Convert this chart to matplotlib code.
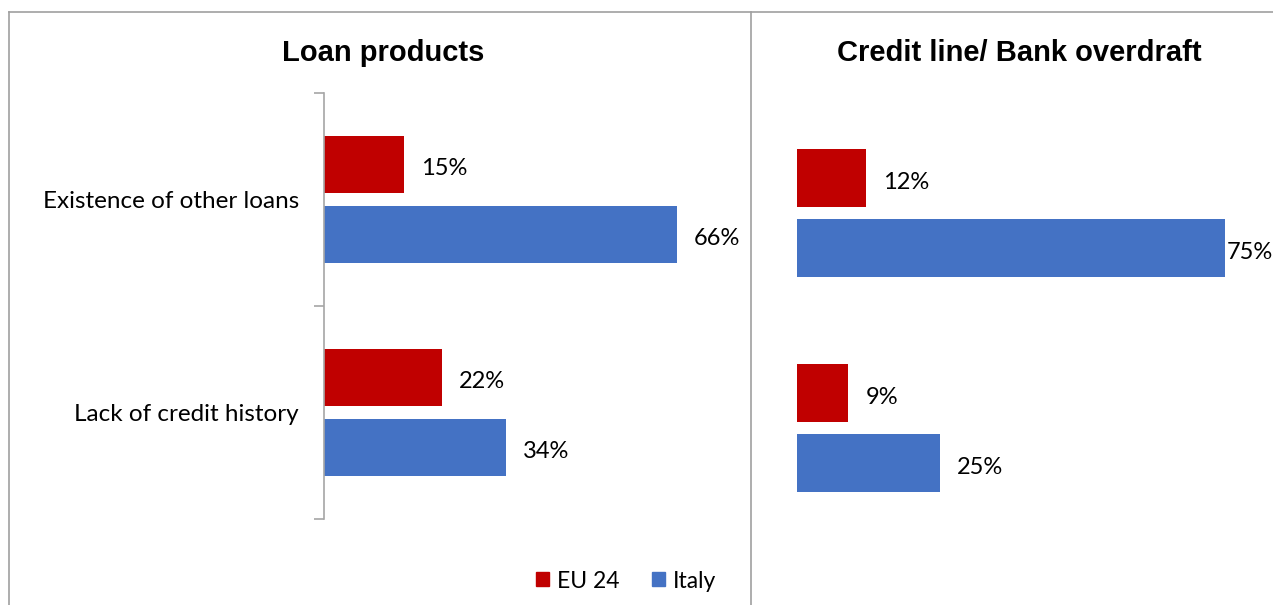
import matplotlib
matplotlib.use("Agg")
import matplotlib.pyplot as plt
from matplotlib.lines import Line2D
from matplotlib.patches import Rectangle

W, H = 1273, 605
DPI = 100

categories = ["Existence of other loans", "Lack of credit history"]
series_names = ["EU 24", "Italy"]
loan_eu = [15, 22]
loan_italy = [66, 34]
credit_eu = [12, 9]
credit_italy = [75, 25]
panel_titles = ["Loan products", "Credit line/ Bank overdraft"]

RED = "#C00000"
BLUE = "#4472C4"
GRID = "#A6A6A6"
LABEL_FONT = ["Lato", "DejaVu Sans"]
TITLE_FONT = ["Liberation Sans", "DejaVu Sans"]
LABEL_SIZE = 17
CAT_SIZE = 17.5
TITLE_SIZE = 21

fig = plt.figure(figsize=(W / DPI, H / DPI), dpi=DPI)


def fx(px):
    return px / W


def fy(py):
    return 1 - py / H


def add_axes_px(left, top, right, bottom):
    return fig.add_axes([fx(left), fy(bottom), fx(right - left), (bottom - top) / H])


# panel frames
border = dict(color="#A0A0A0", lw=1.2, transform=fig.transFigure)
fig.add_artist(Line2D([fx(9), 1], [fy(12), fy(12)], **border))
fig.add_artist(Line2D([fx(9), fx(9)], [fy(12), 0], **border))
fig.add_artist(Line2D([fx(751), fx(751)], [fy(12), 0], **border))

bar_h = 0.268
offset = 0.163


def draw_panel(ax, eu, it, left_px, px_per_pct, show_axis):
    y = list(range(len(categories)))
    ax.barh([v - offset for v in y], eu, height=bar_h, color=RED)
    ax.barh([v + offset for v in y], it, height=bar_h, color=BLUE)
    ax.set_ylim(len(categories) - 0.5, -0.5)
    width_px = ax.get_position().width * W
    ax.set_xlim(0, width_px / px_per_pct)
    for s in ["top", "right", "bottom"]:
        ax.spines[s].set_visible(False)
    ax.set_xticks([])
    pad = 17 / px_per_pct
    # labels near the right edge are pulled back inside the figure
    max_x = (W - 46 - left_px) / px_per_pct

    def label(val, ypos):
        ax.annotate(f"{val}%", (min(val + pad, max_x), ypos), xytext=(0, -3),
                    textcoords="offset points", va="center", ha="left",
                    fontsize=LABEL_SIZE, family=LABEL_FONT, color="black",
                    annotation_clip=False)

    for v, e, i in zip(y, eu, it):
        label(e, v - offset)
        label(i, v + offset)
    if show_axis:
        ax.spines["left"].set_color(GRID)
        ax.spines["left"].set_linewidth(1.2)
        ax.set_yticks(y)
        ax.set_yticklabels(categories, family=LABEL_FONT, fontsize=CAT_SIZE)
        ax.tick_params(axis="y", which="major", length=0, pad=18)
        ax.set_yticks([v - 0.5 for v in range(len(categories) + 1)], minor=True)
        ax.tick_params(axis="y", which="minor", length=7, color=GRID, width=1.2)
    else:
        ax.spines["left"].set_visible(False)
        ax.set_yticks([])


ax1 = add_axes_px(324, 93, 740, 519)
draw_panel(ax1, loan_eu, loan_italy, 324, 5.35, True)

ax2 = add_axes_px(797, 105.5, 1260, 535.5)
draw_panel(ax2, credit_eu, credit_italy, 797, 5.71, False)

fig.text(fx(383), fy(53), panel_titles[0], ha="center", va="center",
         fontsize=TITLE_SIZE, fontweight="bold", family=TITLE_FONT)
fig.text(fx(1019), fy(53), panel_titles[1], ha="center", va="center",
         fontsize=TITLE_SIZE, fontweight="bold", family=TITLE_FONT)

# legend
handles = [Rectangle((0, 0), 1, 1, color=RED), Rectangle((0, 0), 1, 1, color=BLUE)]
fig.legend(handles, series_names, loc="center", bbox_to_anchor=(fx(626), fy(581)),
           ncol=2, frameon=False, prop={"family": LABEL_FONT, "size": 16.5},
           handlelength=0.57, handleheight=0.57, handletextpad=0.35, columnspacing=1.4)

fig.savefig("out.png", dpi=DPI)
